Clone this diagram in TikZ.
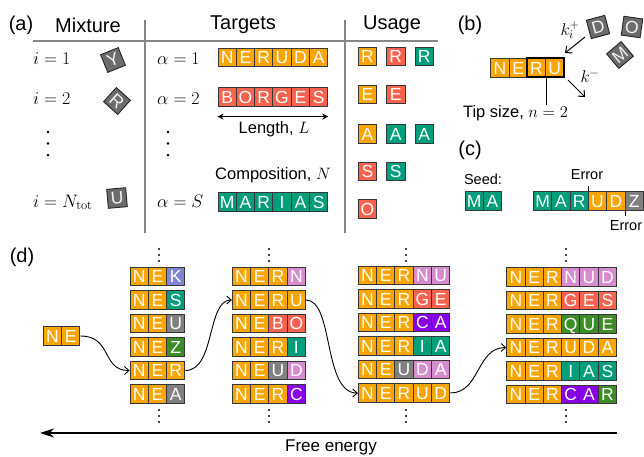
\RequirePackage{fix-cm}
\documentclass[tikz,border=0pt]{standalone}
\usepackage[no-math]{fontspec}
\setmainfont{Liberation Sans}
\usetikzlibrary{arrows.meta}
\definecolor{cOr}{RGB}{250,165,0}
\definecolor{cRd}{RGB}{248,98,78}
\definecolor{cTl}{RGB}{0,158,122}
\definecolor{cGy}{RGB}{128,128,128}
\definecolor{cLv}{RGB}{130,132,212}
\definecolor{cGn}{RGB}{60,140,40}
\definecolor{cPk}{RGB}{216,140,208}
\definecolor{cPu}{RGB}{136,0,230}
\definecolor{tbd}{RGB}{55,55,55}
\definecolor{mgray}{RGB}{108,108,108}
\definecolor{rule}{RGB}{135,135,135}
\newcommand\hdfont{\fontsize{20}{24}\selectfont}
\newcommand\lbfont{\fontsize{16.5}{19}\selectfont}
\newcommand\smfont{\fontsize{14.5}{17}\selectfont}
\newcommand\mtfont{\fontsize{18}{22}\selectfont}
\newcommand\kfont{\fontsize{17}{20}\selectfont}
\newcommand\tilefont{\fontsize{17.5}{20}\selectfont}
\newcommand\tilerow[4]{%
  \foreach \tletter/\tcolor [count=\k] in {#4} {
    \node[tile=\tcolor] (#1-\k) at ({#2+(\k-0.5)*18.3},#3) {\tletter};
  }%
}
\newcommand\dotcol[4]{% x, y top, spacing, radius
  \foreach \j in {0,1,2} { \fill ({#1},{#2+\j*#3}) circle (#4); }%
}
\tikzset{
  tile/.style={draw=tbd, line width=0.9pt, fill=#1, minimum width=18.3pt,
    minimum height=18.3pt, inner sep=0pt, text=white, font=\tilefont,
    text height=12.5pt, text depth=0pt},
  mixtile/.style={draw=black!85, line width=0.9pt, fill=mgray, minimum width=19pt,
    minimum height=19pt, inner sep=0pt, text=white!90!gray, font=\tilefont,
    text height=12.5pt, text depth=0pt},
  hd/.style={font=\hdfont, inner sep=0pt},
  lb/.style={font=\lbfont, inner sep=0pt},
  sm/.style={font=\smfont, inner sep=0pt},
  mt/.style={font=\mtfont, inner sep=0pt},
  kl/.style={font=\kfont, inner sep=0pt},
  ruleline/.style={draw=rule, line width=1.5pt},
  conn/.style={line width=0.9pt, -{Straight Barb[length=4.5pt,width=8pt]}},
  karrow/.style={line width=1pt, -{Straight Barb[length=5pt,width=9pt]}},
  tick/.style={line width=1.2pt},
}
\begin{document}
\begin{tikzpicture}[x=1pt,y=-1pt]
\useasboundingbox (0,0) rectangle (644,456);
\fill[white] (0,0) rectangle (644,456);

% ---------- panel (a)
\node[hd] (lbla) at (21,25) {(a)};
\node[hd] (hmix) at (88,25) {Mixture};
\node[hd] (htar) at (243,25) {Targets};
\node[hd] (husg) at (392,25) {Usage};
\draw[ruleline] (33,41) -- (438,41);
\draw[ruleline] (145,20) -- (145,233);
\draw[ruleline] (345,20) -- (345,233);

\node[mt, anchor=base west] (i1) at (33,64) {$i=1$};
\node[mt, anchor=base west] (i2) at (33,104) {$i=2$};
\node[mt, anchor=base west] (iN) at (33,207) {$i=N_{\mathrm{tot}}$};
\dotcol{48}{132}{11.5}{1.3}
\node[mixtile, rotate=22] (mY) at (113,60) {Y};
\node[mixtile, rotate=-42] (mR) at (117,101) {R};
\node[mixtile, rotate=5] (mU) at (117,198) {U};

\node[mt, anchor=base west] (a1) at (157,64) {$\alpha=1$};
\node[mt, anchor=base west] (a2) at (157,104) {$\alpha=2$};
\node[mt, anchor=base west] (aS) at (157,207) {$\alpha=S$};
\dotcol{168}{132}{11.5}{1.3}

\tilerow{ner}{218}{57.5}{N/cOr,E/cOr,R/cOr,U/cOr,D/cOr,A/cOr}
\tilerow{bor}{218}{97}{B/cRd,O/cRd,R/cRd,G/cRd,E/cRd,S/cRd}
\tilerow{mar}{218}{202}{M/cTl,A/cTl,R/cTl,I/cTl,A/cTl,S/cTl}
\draw[line width=1.2pt, {Stealth[length=6pt,width=6pt]}-{Stealth[length=6pt,width=6pt]}]
  ([yshift=-10pt]bor-1.south west) -- ([yshift=-10pt]bor-6.south east);
\node[lb] (len) at (274,129) {Length, $L$};
\node[lb, anchor=west] (comp) at (215,175) {Composition, $N$};

% usage
\node[tile=cOr] (uR1) at (367.5,56.7) {R};
\node[tile=cRd] (uR2) at (395.8,56.7) {R};
\node[tile=cTl] (uR3) at (424.2,56.7) {R};
\node[tile=cOr] (uE1) at (367.5,94.3) {E};
\node[tile=cRd] (uE2) at (395.8,94.3) {E};
\node[tile=cOr] (uA1) at (367.5,134) {A};
\node[tile=cTl] (uA2) at (395.8,134) {A};
\node[tile=cTl] (uA3) at (424.2,134) {A};
\node[tile=cRd] (uS1) at (367.5,171.7) {S};
\node[tile=cTl] (uS2) at (395.8,171.7) {S};
\node[tile=cRd] (uO1) at (367.5,209) {O};

% ---------- panel (b)
\node[hd] (lblb) at (470,25) {(b)};
\tilerow{tipw}{490.7}{67.8}{N/cOr,E/cOr,R/cOr,U/cOr}
\draw[line width=2pt] (tipw-3.north west) rectangle (tipw-4.south east);
\node[lb] (tip) at (515.5,113) {Tip size, $n=2$};
\draw[line width=1pt] (tipw-3.south east) -- (tipw-3.south east |- tip.north);
\node[mixtile, rotate=15] (fD) at (598,27) {D};
\node[mixtile, rotate=-8] (fO) at (632,27) {O};
\node[mixtile, rotate=40] (fM) at (620,55) {M};
\coordinate (kps) at (585,37);
\coordinate (kpe) at (565,53);
\draw[karrow] (kps) -- (kpe);
\node[kl] (kpl) at (570,30) {$k_i^+$};
\coordinate (kms) at (568,80);
\coordinate (kme) at (585,97);
\draw[karrow] (kms) -- (kme);
\node[kl] (kml) at (590,76) {$k^-$};

% ---------- panel (c)
\node[hd] (lblc) at (470,150) {(c)};
\node[sm] (seed) at (483,179) {Seed:};
\tilerow{sd}{465}{201}{M/cTl,A/cTl}
\tilerow{gr}{533.5}{201}{M/cTl,A/cTl,R/cTl,U/cOr,D/cOr,Z/cGy}
\draw[tick] (gr-3.north east) -- ++(0,-5);
\draw[tick] (gr-5.south east) -- ++(0,5);
\node[sm] (err1) at (587,175) {Error};
\node[sm] (err2) at (626,226) {Error};

% ---------- panel (d)
\node[hd] (lbld) at (22,257) {(d)};
\tilerow{d0}{43.3}{336}{N/cOr,E/cOr}

\tilerow{c1r1}{130}{276.5}{N/cOr,E/cOr,K/cLv}
\tilerow{c1r2}{130}{300}{N/cOr,E/cOr,S/cTl}
\tilerow{c1r3}{130}{323.5}{N/cOr,E/cOr,U/cGy}
\tilerow{c1r4}{130}{347}{N/cOr,E/cOr,Z/cGn}
\tilerow{c1r5}{130}{370.5}{N/cOr,E/cOr,R/cOr}
\tilerow{c1r6}{130}{394}{N/cOr,E/cOr,A/cGy}

\tilerow{c2r1}{232.3}{276.5}{N/cOr,E/cOr,R/cOr,N/cPk}
\tilerow{c2r2}{232.3}{300}{N/cOr,E/cOr,R/cOr,U/cOr}
\tilerow{c2r3}{232.3}{323.5}{N/cOr,E/cOr,B/cRd,O/cRd}
\tilerow{c2r4}{232.3}{347}{N/cOr,E/cOr,R/cOr,I/cTl}
\tilerow{c2r5}{232.3}{370.5}{N/cOr,E/cOr,U/cGy,D/cPk}
\tilerow{c2r6}{232.3}{394}{N/cOr,E/cOr,R/cOr,C/cPu}

\tilerow{c3r1}{358.3}{275.5}{N/cOr,E/cOr,R/cOr,N/cPk,U/cPk}
\tilerow{c3r2}{358.3}{299}{N/cOr,E/cOr,R/cOr,G/cRd,E/cRd}
\tilerow{c3r3}{358.3}{322.5}{N/cOr,E/cOr,R/cOr,C/cPu,A/cPu}
\tilerow{c3r4}{358.3}{346}{N/cOr,E/cOr,R/cOr,I/cTl,A/cTl}
\tilerow{c3r5}{358.3}{369.5}{N/cOr,E/cOr,U/cGy,D/cPk,A/cPk}
\tilerow{c3r6}{358.3}{393}{N/cOr,E/cOr,R/cOr,U/cOr,D/cOr}

\tilerow{c4r1}{506.7}{277}{N/cOr,E/cOr,R/cOr,N/cPk,U/cPk,D/cPk}
\tilerow{c4r2}{506.7}{300.5}{N/cOr,E/cOr,R/cOr,G/cRd,E/cRd,S/cRd}
\tilerow{c4r3}{506.7}{324}{N/cOr,E/cOr,R/cOr,Q/cGn,U/cGn,E/cGn}
\tilerow{c4r4}{506.7}{347.5}{N/cOr,E/cOr,R/cOr,U/cOr,D/cOr,A/cOr}
\tilerow{c4r5}{506.7}{371}{N/cOr,E/cOr,R/cOr,I/cTl,A/cTl,S/cTl}
\tilerow{c4r6}{506.7}{394.5}{N/cOr,E/cOr,R/cOr,C/cPu,A/cPu,R/cGn}

\dotcol{159}{249}{6}{1.1}
\dotcol{159}{410}{6}{1.1}
\dotcol{269}{249}{6}{1.1}
\dotcol{269}{410}{6}{1.1}
\dotcol{406}{249}{6}{1.1}
\dotcol{406}{410}{6}{1.1}
\dotcol{566}{249}{6}{1.1}
\dotcol{566}{410}{6}{1.1}

\draw[conn] (d0-2.east) .. controls +(32,0) and +(-28,0) .. (c1r5-1.west);
\draw[conn] (c1r5-3.east) .. controls +(30,0) and +(-25,0) .. (c2r2-1.west);
\draw[conn] (c2r2-4.east) .. controls +(28,0) and +(-35,0) .. (c3r6-1.west);
\draw[conn] (c3r6-5.east) .. controls +(30,0) and +(-30,0) .. (c4r4-1.west);

\coordinate (feR) at (616.5,433);
\coordinate (feL) at (40,433);
\draw[line width=1.8pt, -{Stealth[length=14pt,width=9pt]}] (feR) -- (feL);
\node[lb, font=\fontsize{17}{20}\selectfont] (fe) at (331,447) {Free energy};
\end{tikzpicture}
\end{document}
